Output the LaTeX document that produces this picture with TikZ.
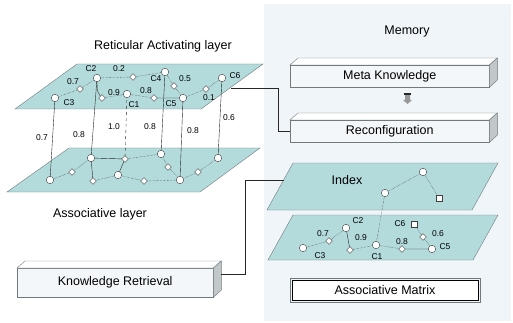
\documentclass[tikz,border=0pt]{standalone}
\usepackage{fontspec}
\setmainfont{Liberation Sans}
\usepackage{tikz}
\usetikzlibrary{shapes.geometric}
\definecolor{plane}{HTML}{B4DBDC}
\definecolor{panel}{HTML}{EFF5F8}
\definecolor{boxface}{HTML}{F3F7F9}
\definecolor{boxside}{HTML}{C2C7C9}
\definecolor{rim}{HTML}{707A7C}

\begin{document}
\begin{tikzpicture}[x=1pt,y=-1pt,font=\fontsize{12.5}{14}\selectfont,
  cnode/.style={circle,draw=black!75,fill=white,inner sep=0pt,minimum size=7.5pt},
  dnode/.style={diamond,draw=black!75,fill=white,inner sep=0pt,minimum size=7pt},
  snode/.style={rectangle,draw=black!75,fill=white,inner sep=0pt,minimum size=6.5pt},
  lbl/.style={font=\fontsize{8.5}{9}\selectfont,inner sep=0.5pt},
  link/.style={densely dotted,black!85},
  frontbox/.style={draw=rim,fill=boxface,inner sep=0pt,anchor=north west}]
  \useasboundingbox (0,0) rectangle (513,323);
  % memory panel
  \fill[panel] (264,4) rectangle (511,321);
  \node at (407,31) {Memory};

  % the two layers
  \filldraw[fill=plane,draw=rim] (15,109) -- (201,109) -- (263,64) -- (77,64) -- cycle;
  \filldraw[fill=plane,draw=rim] (7,192) -- (200,192) -- (260,148) -- (69,148) -- cycle;
  \node (ral) at (163,46) {Reticular Activating layer};
  \node (asl) at (100,214) {Associative layer};

  % boxes with top and side face
  \foreach \x/\y/\w/\h/\nm/\lbl in {290/65/199/22/meta/Meta Knowledge,
      290/120/199/22/reconf/Reconfiguration, 17/268/196/29/kr/Knowledge Retrieval} {
    \node[frontbox,minimum width=\w pt,minimum height=\h pt] (\nm) at (\x,\y) {};
    \filldraw[fill=white,draw=rim] (\nm.north west) -- ++(8,-7) -- ++(\w,0) -- (\nm.north east) -- cycle;
    \filldraw[fill=boxside,draw=rim] (\nm.north east) -- ++(8,-7) -- ++(0,\h) -- (\nm.south east) -- cycle;
    \node at (\nm.center) {\lbl};
  }
  % small arrow between meta and reconf
  \fill[black!40] (405,95) rectangle (410,100) -- (403,100) -- (407.5,104) -- (412,100) -- cycle;
  \fill[black!85] (404,93) rectangle (411,95.5);

  % upper layer nodes
  \foreach \nm/\x/\y/\s in {c3/55/98/cnode, d07/80/89/dnode, c2/97/78/cnode, d02/133/77/dnode,
      c4/165/72/cnode, d05/174/86/dnode, c5/183/98/cnode, d01/206/89/dnode, c6/222/78/cnode,
      d09/102/98/dnode, c1/127/94/cnode, d08/154/98/dnode}
    \coordinate (\nm) at (\x,\y);
  % lower layer nodes
  \foreach \nm/\x/\y in {b1/50/180, b3/91/158, b5/161/154, b7/180/180, b9/218/158, b11/118/175}
    \coordinate (\nm) at (\x,\y);
  \foreach \nm/\x/\y in {b2/72/172, b4/125/159, b6/168/167, b8/198/172, b10/93/181, b12/144/181}
    \coordinate (\nm) at (\x,\y);

  % lines between the layers
  \draw[black!85] (c3) -- (b1) (c2) -- (b3) (c4) -- (b5) (c5) -- (b7) (c6) -- (b9);
  \draw[black!85,dashed] (c1) -- (b4);
  \foreach \pos/\v in {{42,138}/0.7, {79,135}/0.8, {114,127}/1.0, {150,127}/0.8, {193,131}/0.8, {229,118}/0.6}
    \node[lbl] at (\pos) {\v};

  % links inside the upper layer
  \draw[link] (c3) -- (d07) -- (c2) -- (d02) -- (c4) -- (d05) -- (c5) -- (d01) -- (c6);
  \draw[link] (d09) -- (c1) -- (d08);
  \draw[black!85] (c2) .. controls (97,92) .. (d09) (d08) -- (c5);
  % links inside the lower layer
  \draw[link] (b1) -- (b2) -- (b3) (b4) -- (b5) -- (b6) -- (b7) -- (b8) -- (b9);
  \draw[link] (b10) -- (b11) -- (b12) -- (b7);
  \draw[black!85] (b3) -- (b4) -- (b11) (b3) -- (b10);

  \foreach \nm in {c3,c2,c4,c5,c6,c1,b1,b3,b5,b7,b9,b11}
    \node[cnode] (n\nm) at (\nm) {};
  \foreach \nm in {d07,d02,d05,d01,d09,d08,b2,b4,b6,b8,b10,b12}
    \node[dnode] (n\nm) at (\nm) {};

  \foreach \pos/\v in {{69,103}/C3, {73,82}/0.7, {91,69}/C2, {119,69}/0.2, {156,79}/C4, {185,79}/0.5,
      {171,104}/C5, {209,98}/0.1, {235,76}/C6, {114,93}/0.9, {134,105}/C1, {146,91}/0.8}
    \node[lbl] at (\pos) {\v};

  % index and associative matrix
  \filldraw[fill=plane,draw=rim] (267,210) -- (472,210) -- (498,163) -- (293,163) -- cycle;
  \filldraw[fill=plane,draw=rim] (268,260) -- (473,260) -- (498,215) -- (293,215) -- cycle;
  \node (idx) at (347,180) {Index};
  \node[cnode] (i1) at (385,193) {};
  \node[cnode] (i2) at (423,172) {};
  \node[snode] (i3) at (439,198) {};
  \draw[link] (i1) -- (i2) -- (i3);

  \node[cnode] (m3) at (303,248) {};
  \node[dnode] (md07) at (329,241) {};
  \node[cnode] (m2) at (346,228) {};
  \node[dnode] (md09) at (350,250) {};
  \node[cnode] (m1) at (376,245) {};
  \node[dnode] (md08) at (402,249) {};
  \node[cnode] (m5) at (432,249) {};
  \node[snode] (m6) at (414,224) {};
  \node[dnode] (md06) at (423,237) {};
  \draw[link] (m3) -- (md07) -- (m2) (md09) -- (m1) -- (md08) (m6) -- (md06) -- (m5);
  \draw[black!85] (m2) -- (md09) (md08) -- (m5);
  \draw[link] (i1) -- (m1);
  \foreach \pos/\v in {{320,256}/C3, {323,234}/0.7, {358,221}/C2, {361,238}/0.9, {377,257}/C1,
      {402,242}/0.8, {445,247}/C5, {400,224}/C6, {438,234}/0.6}
    \node[lbl] at (\pos) {\v};

  \draw[rim] (290,278) rectangle (480,302);
  \node[draw=black,fill=white,minimum width=186pt,minimum height=20pt,inner sep=0pt] (am) at (385,290) {Associative Matrix};

  % connectors
  \coordinate (ra) at (231,88);
  \coordinate (ix) at (284,180);
  \draw[black!85] (ra) -- (278,88) |- (reconf.west);
  \draw[black!85] (ix) -- (245,180) |- ([xshift=8pt,yshift=9pt]kr.east);
\end{tikzpicture}
\end{document}
